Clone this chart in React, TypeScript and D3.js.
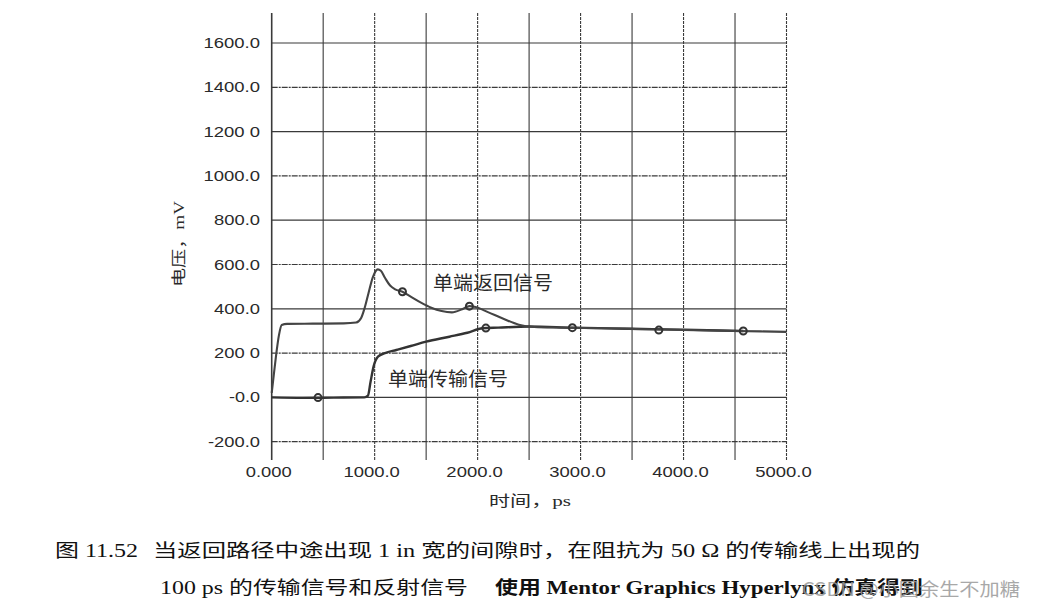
import React from "react";
import * as d3 from "d3";

// ---- data ----
const xTicks = [0, 500, 1000, 1500, 2000, 2500, 3000, 3500, 4000, 4500, 5000];
const xTickLabels = ["0.000", "", "1000.0", "", "2000.0", "", "3000.0", "", "4000.0", "", "5000.0"];
const yTicks = [-200, 0, 200, 400, 600, 800, 1000, 1200, 1400, 1600];
const yTickLabels = ["-200.0", "-0.0", "200 0", "400.0", "600.0", "800.0", "1000.0", "1200 0", "1400.0", "1600.0"];

// reflected (return) signal  单端返回信号
const reflT = [0, 15, 40, 70, 97, 150, 400, 700, 820, 870, 903, 940, 980, 1010, 1030, 1060, 1100, 1150, 1200, 1270, 1350, 1450, 1550, 1650, 1750, 1850, 1920, 1980, 2100, 2250, 2400, 2550, 2800, 3200, 3600, 4000, 4500, 5000];
const reflV = [20, 80, 180, 280, 327, 332, 333, 334, 338, 360, 404, 470, 540, 570, 578, 572, 540, 505, 488, 477, 455, 428, 405, 390, 384, 398, 412, 408, 385, 355, 328, 318, 315, 312, 308, 304, 300, 296];

// transmitted signal  单端传输信号
const txT = [0, 300, 600, 900, 935, 960, 990, 1032, 1100, 1210, 1350, 1500, 1726, 1900, 2048, 2200, 2500, 2920, 3500, 4000, 4580];
const txV = [0, -2, -1, 0, 8, 70, 140, 184, 200, 214, 232, 252, 274, 292, 312, 315, 320, 315, 310, 306, 300];

// marker blobs on the curves
const reflMarkT = [1270, 1920];
const reflMarkV = [477, 412];
const txMarkT = [450, 2080, 2920, 3760, 4580];
const txMarkV = [-1, 313, 315, 304, 300];

const curveLabels = ["单端返回信号", "单端传输信号"];
const xTitle = "时间，ps";
const yTitle = "电压，mV";
const caption1a = "图 11.52";
const caption1b = "当返回路径中途出现 1 in 宽的间隙时，在阻抗为 50 Ω 的传输线上出现的";
const caption2a = "100 ps 的传输信号和反射信号";
const caption2b = "使用 Mentor Graphics Hyperlynx 仿真得到";
const watermark = "CSDN @小圆余生不加糖";

function labelWidth(s: string) {
  let w = 0;
  for (const c of s) {
    if (c >= "0" && c <= "9") w += 10.5;
    else if (c === "." || c === " ") w += 4;
    else if (c === "-") w += 6;
  }
  return w;
}

export default function App() {
  const x = d3.scaleLinear().domain([0, 5000]).range([271.7, 786.5]);
  const y = d3.scaleLinear().domain([-200, 1600]).range([441.7, 43]);
  const gridTop = 13;
  const gridBottom = 460;

  const line = d3
    .line<[number, number]>()
    .x((d) => x(d[0]))
    .y((d) => y(d[1]))
    .curve(d3.curveMonotoneX);

  const reflPts = reflT.map((t, i) => [t, reflV[i]] as [number, number]);
  const txPts = txT.map((t, i) => [t, txV[i]] as [number, number]);

  const tickFont = "'Liberation Sans', Arial, sans-serif";
  const cjkFont = "'Liberation Serif', 'Noto Sans CJK SC', serif";
  const ink = "#2a2a2a";

  return (
    <svg
      width={1037}
      height={610}
      style={{ position: "absolute", left: 0, top: 0, background: "#fff" }}
    >
      <rect x={0} y={0} width={1037} height={610} fill="#fff" />
      {/* grid */}
      {xTicks.map((t, i) => (
        <line
          key={"vx" + i}
          x1={x(t)}
          x2={x(t)}
          y1={gridTop}
          y2={gridBottom}
          stroke="#3a3a3a"
          strokeWidth={i === 0 ? 1.6 : 1.1}
          strokeDasharray={i % 2 === 0 && i !== 0 ? "3 1" : undefined}
        />
      ))}
      {yTicks.map((v, i) => (
        <line
          key={"hy" + i}
          x1={x(0)}
          x2={x(5000)}
          y1={y(v)}
          y2={y(v)}
          stroke="#3a3a3a"
          strokeWidth={1.2}
          strokeDasharray={i % 2 === 0 ? "6 1 2 1" : undefined}
        />
      ))}

      {/* y tick labels */}
      {yTicks.map((v, i) => (
        <text
          key={"yl" + i}
          x={260}
          y={y(v) + 5}
          textAnchor="end"
          fontFamily={tickFont}
          fontSize={14}
          fill={ink}
          textLength={labelWidth(yTickLabels[i])}
          lengthAdjust="spacingAndGlyphs"
        >
          {yTickLabels[i]}
        </text>
      ))}
      {/* x tick labels */}
      {xTicks.map((t, i) =>
        xTickLabels[i] ? (
          <text
            key={"xl" + i}
            x={x(t) - 3}
            y={477}
            textAnchor="middle"
            fontFamily={tickFont}
            fontSize={14}
            fill={ink}
            textLength={labelWidth(xTickLabels[i])}
            lengthAdjust="spacingAndGlyphs"
          >
            {xTickLabels[i]}
          </text>
        ) : null
      )}

      {/* curves */}
      <path d={line(txPts) || ""} fill="none" stroke="#333" strokeWidth={2.4} />
      <path d={line(reflPts) || ""} fill="none" stroke="#444" strokeWidth={2.1} />
      {reflMarkT.map((t, i) => (
        <circle key={"rm" + i} cx={x(t)} cy={y(reflMarkV[i])} r={3.5} fill="none" stroke="#333" strokeWidth={2} />
      ))}
      {txMarkT.map((t, i) => (
        <circle key={"tm" + i} cx={x(t)} cy={y(txMarkV[i])} r={3.5} fill="none" stroke="#333" strokeWidth={2} />
      ))}

      {/* curve labels */}
      <text x={433} y={290} fontFamily={cjkFont} fontSize={19} fill={ink} textLength={120} lengthAdjust="spacingAndGlyphs">
        {curveLabels[0]}
      </text>
      <text x={388} y={386} fontFamily={cjkFont} fontSize={19} fill={ink} textLength={120} lengthAdjust="spacingAndGlyphs">
        {curveLabels[1]}
      </text>

      {/* axis titles */}
      <text x={489} y={506} fontFamily={cjkFont} fontSize={15} fill={ink} textLength={82} lengthAdjust="spacingAndGlyphs">
        {xTitle}
      </text>
      <text
        transform="translate(184,244) rotate(-90)"
        textAnchor="middle"
        fontFamily={cjkFont}
        fontSize={15}
        fill={ink}
        textLength={86}
        lengthAdjust="spacingAndGlyphs"
      >
        {yTitle}
      </text>

      {/* caption */}
      <text x={55} y={557} fontFamily={cjkFont} fontSize={18} fill="#111" textLength={83} lengthAdjust="spacingAndGlyphs">
        {caption1a}
      </text>
      <text x={153} y={557} fontFamily={cjkFont} fontSize={18} fill="#111" textLength={767} lengthAdjust="spacingAndGlyphs">
        {caption1b}
      </text>
      <text x={160} y={594} fontFamily={cjkFont} fontSize={18} fill="#111" textLength={308} lengthAdjust="spacingAndGlyphs">
        {caption2a}
      </text>
      <text x={495} y={594} fontFamily={cjkFont} fontSize={18} fontWeight="bold" fill="#111" textLength={428} lengthAdjust="spacingAndGlyphs">
        {caption2b}
      </text>
      <text x={802} y={596} fontFamily="'Noto Sans CJK SC', sans-serif" fontSize={18} fill="#9a9a9a" opacity={0.85} textLength={218} lengthAdjust="spacingAndGlyphs">
        {watermark}
      </text>
    </svg>
  );
}
